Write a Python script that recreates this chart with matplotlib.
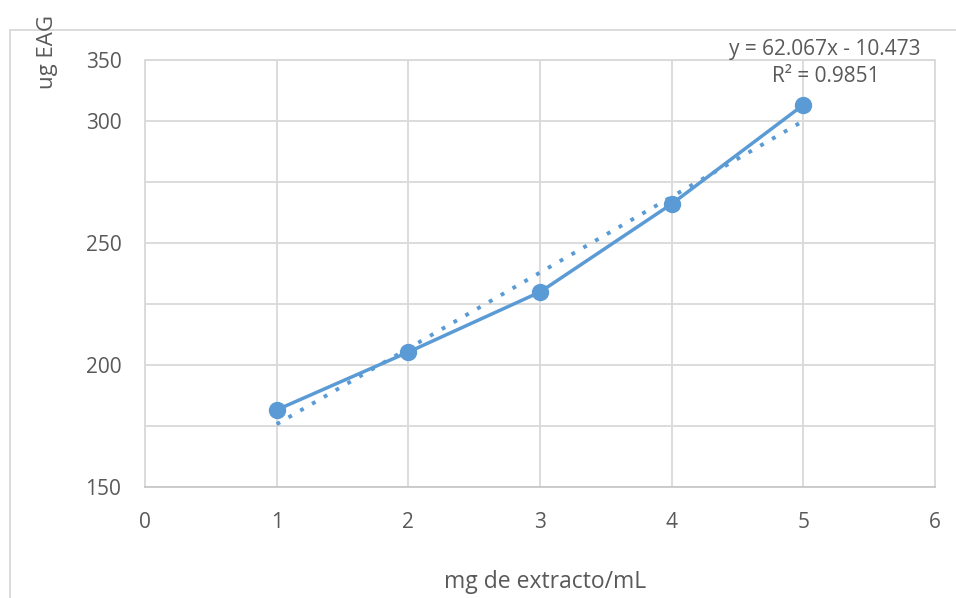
import matplotlib
matplotlib.use("Agg")
import matplotlib.pyplot as plt
import numpy as np
from matplotlib.lines import Line2D

plt.rcParams['font.family'] = ['Open Sans', 'DejaVu Sans']

# data
x_vals = [1, 2, 3, 4, 5]
y_vals = [181.6, 205.3, 229.9, 266.0, 306.6]
x_ticks = [0, 1, 2, 3, 4, 5, 6]
y_ticks = [150, 175, 200, 225, 250, 275, 300, 325]
y_tick_labels = ["150", "", "200", "", "250", "", "300", "350"]
eq_text = "y = 62.067x - 10.473"
r2_text = "R² = 0.9851"
x_label = "mg de extracto/mL"
y_label = "ug EAG"

blue = "#5b9bd5"
grid_c = "#d9d9d9"
text_c = "#595959"

fig = plt.figure(figsize=(9.56, 5.98), dpi=100)
ax = fig.add_axes([145/956, 1-487/598, (935-145)/956, (487-60)/598])

# trendline (least squares fit of the data)
coef = np.polyfit(x_vals, y_vals, 1)
tx = np.array([x_vals[0], x_vals[-1]])
ax.plot(tx, np.polyval(coef, tx), linestyle=(0, (1, 2.5)), color=blue,
        lw=2.8, dash_capstyle='butt', zorder=3)

ax.plot(x_vals, y_vals, color=blue, lw=2.5, marker='o', markersize=11.5,
        zorder=4, solid_capstyle='round')

ax.set_xlim(0, 6)
ax.set_ylim(150, 325)
ax.set_xticks(x_ticks)
ax.set_yticks(y_ticks)
ax.set_yticklabels(y_tick_labels)
ax.tick_params(length=0, labelsize=15, labelcolor=text_c)
ax.tick_params(axis='y', pad=17)
ax.tick_params(axis='x', pad=18)
ax.grid(True, color=grid_c, lw=1.3)
ax.set_axisbelow(True)
for s in ax.spines.values():
    s.set_color(grid_c)
    s.set_linewidth(1.3)
ax.spines['bottom'].set_color("#c8c8c8")

fig.text(545/956, 1-582/598, x_label, ha='center', va='center',
         fontsize=16.5, color=text_c)
fig.text(47/956, 1-52/598, y_label, ha='center', va='center',
         rotation=90, fontsize=16, color=text_c)
fig.text(825/956, 1-49/598, eq_text, ha='center', va='center',
         fontsize=15, color=text_c)
fig.text(826/956, 1-77/598, r2_text, ha='center', va='center',
         fontsize=15, color=text_c)

# chart area frame
fig.add_artist(Line2D([10/956, 1.0], [1-30/598, 1-30/598], color=grid_c, lw=1.3,
                      transform=fig.transFigure))
fig.add_artist(Line2D([10/956, 10/956], [1-30/598, 0.0], color=grid_c, lw=1.3,
                      transform=fig.transFigure))

fig.savefig("out.png", dpi=100)
